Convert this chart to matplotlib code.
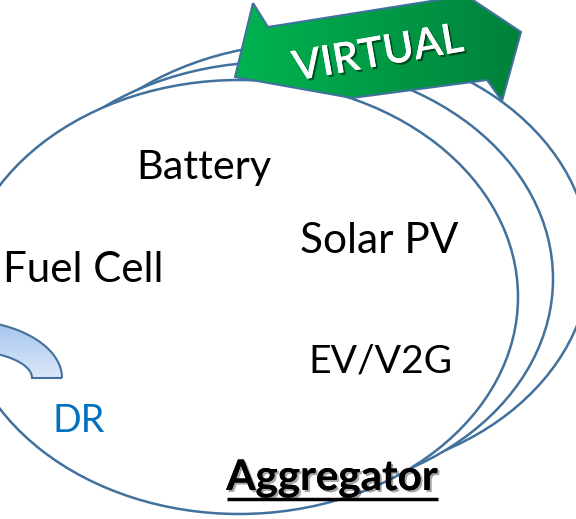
import numpy as np
import matplotlib
matplotlib.use('Agg')
import matplotlib.pyplot as plt
from matplotlib.patches import Ellipse, Polygon
import matplotlib.patheffects as pe

# ---- diagram content (pixel coordinates, y down) ----
labels = ['Battery', 'Solar PV', 'Fuel Cell', 'EV/V2G']
title = 'Aggregator'
banner = 'VIRTUAL'
dr_label = 'DR'

# main ellipse: centre, width, height; the two back ones are shifted copies
ell_center = (239, 297)
ell_size = (558, 434)
ell_shifts = [(72, -37), (35, -18), (0, 0)]

arrow_pts = [(253, 3), (268, 27), (450, -2), (458, -10), (521, 32),
             (502, 101), (487, 80), (352, 98), (235, 77)]

# DR curved band: ellipse centre, outer radii, inner radii
dr_center = (-40, 378)
dr_outer = (102, 58)
dr_inner = (72, 28)

label_pos = [(204, 179), (379, 253), (83, 282), (380, 372)]
label_w = [135, 158, 160, 144]

edge = '#41719C'
W, H = 576, 519

fig = plt.figure(figsize=(W / 100, H / 100), dpi=100)
ax = fig.add_axes([0, 0, 1, 1])
ax.set_xlim(0, W)
ax.set_ylim(H, 0)
ax.axis('off')
renderer = fig.canvas.get_renderer()
FONT = ['Lato', 'DejaVu Sans']


def fit_text(x, y, s, width, **kw):
    # draw text and scale its size so it spans `width` pixels
    rot = kw.pop('rotation', 0)
    t = ax.text(x, y, s, fontsize=30, family=FONT, **kw)
    w = t.get_window_extent(renderer).width
    t.set_fontsize(30 * width / w)
    t.set_rotation(rot)
    return t


# ellipses
for i, (dx, dy) in enumerate(ell_shifts):
    ax.add_patch(Ellipse((ell_center[0] + dx, ell_center[1] + dy),
                         ell_size[0], ell_size[1], fc='white', ec=edge,
                         lw=1.8, zorder=1 + i))

# green banner arrow with horizontal gradient
arrow = Polygon(arrow_pts, closed=True, fc='none', ec=edge, lw=1.5, zorder=6)
ax.add_patch(arrow)
grad = np.linspace(0, 1, 256).reshape(1, -1)
cmap = matplotlib.colors.LinearSegmentedColormap.from_list('g', ['#00B552', '#00803A'])
im = ax.imshow(grad, cmap=cmap, extent=(230, 525, 105, -12), aspect='auto', zorder=5)
im.set_clip_path(arrow)
ax.set_xlim(0, W)
ax.set_ylim(H, 0)

v = fit_text(378, 54, banner, 172, color='white', ha='center', va='center',
             rotation=10, rotation_mode='anchor', fontweight='semibold', zorder=7)
v.set_path_effects([pe.withSimplePatchShadow(offset=(1.5, -1.5), shadow_rgbFace='black', alpha=0.5),
                    pe.Normal()])

# DR curved band
t = np.linspace(0, np.deg2rad(160), 80)
outer = np.c_[dr_center[0] + dr_outer[0] * np.cos(t), dr_center[1] - dr_outer[1] * np.sin(t)]
inner = np.c_[dr_center[0] + dr_inner[0] * np.cos(t), dr_center[1] - dr_inner[1] * np.sin(t)]
band = Polygon(np.vstack([outer, inner[::-1]]), closed=True, fc='none', ec=edge, lw=1.5, zorder=9)
ax.add_patch(band)
bgrad = np.linspace(0, 1, 256).reshape(-1, 1)
bcmap = matplotlib.colors.LinearSegmentedColormap.from_list('b', ['#A2C2EE', '#DEE9F9'])
bim = ax.imshow(bgrad, cmap=bcmap, extent=(-150, 70, 380, 318), aspect='auto', zorder=8)
bim.set_clip_path(band)
ax.set_xlim(0, W)
ax.set_ylim(H, 0)

# labels
for s, (x, y), w in zip(labels, label_pos, label_w):
    fit_text(x, y, s, w, color='black', ha='center', va='baseline', zorder=10)

fit_text(79, 432, dr_label, 52, color='#0070C0', ha='center', va='baseline', zorder=10)

ag = fit_text(332, 490, title, 211, color='black', ha='center', va='baseline',
              fontweight='bold', zorder=10)
ag.set_path_effects([pe.withSimplePatchShadow(offset=(1.5, -1.5), shadow_rgbFace='black', alpha=0.35),
                     pe.Normal()])
ax.plot([227, 438], [499, 499], color='black', lw=2.5, solid_capstyle='butt', zorder=10)

fig.savefig('out.png', dpi=100)
